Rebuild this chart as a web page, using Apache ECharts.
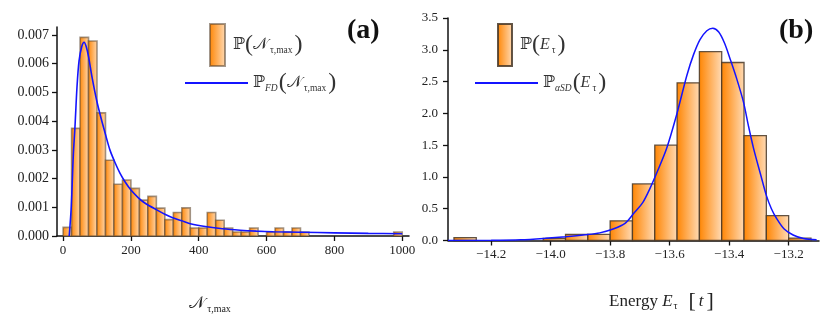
<!DOCTYPE html>
<html><head><meta charset="utf-8">
<script src="https://cdn.jsdelivr.net/npm/echarts@6/dist/echarts.min.js"></script>
<style>html,body{margin:0;padding:0;background:#fff}#c{width:830px;height:319px}</style>
</head><body><div id="c"></div>
<script>
// ---------- data (panel a) ----------
const nBinLo = [0,25,50,75,100,125,150,175,200,225,250,275,300,325,350,375,400,425,450,475,500,525,550,600,625,650,675,700,975];
const nBinWidth = 25;
const nHist = [0.00030,0.00375,0.00692,0.00679,0.00429,0.00264,0.00180,0.00195,0.00166,0.00125,0.00138,0.00097,0.00057,0.00082,0.00098,0.00028,0.00028,0.00082,0.00055,0.00028,0.00014,0.00014,0.00028,0.00014,0.00028,0.00014,0.00028,0.00014,0.00014];
const nFitX = [18,24,30,35,41,47,55,62,68,75,85,99,112,124,138,153,168,183,200,222,242,276,300,325,350,375,424,470,522,570,620,700,800,900,1000];
const nFitY = [0,0.0010,0.0028,0.0038,0.0052,0.0061,0.0066,0.00675,0.0066,0.00625,0.00555,0.00472,0.0041,0.00358,0.0030,0.00256,0.00218,0.00188,0.0016,0.00133,0.00114,0.00091,0.00076,0.00063,0.00053,0.00043,0.00032,0.00025,0.00020,0.00017,0.00015,0.00013,0.00011,0.00009,0.00008];
const nTicksX = [0,200,400,600,800,1000];
const nTicksY = [0,0.001,0.002,0.003,0.004,0.005,0.006,0.007];
// ---------- data (panel b) ----------
const eBinLo = [-14.325,-14.025,-13.95,-13.875,-13.80,-13.725,-13.65,-13.575,-13.50,-13.425,-13.35,-13.275,-13.20];
const eBinWidth = 0.075;
const eHist = [0.045,0.035,0.095,0.095,0.31,0.89,1.50,2.48,2.97,2.80,1.65,0.39,0.037];
const eFitX = [-14.345,-14.2,-14.1,-14.018,-13.95,-13.884,-13.835,-13.79,-13.75,-13.722,-13.69,-13.666,-13.64,-13.61,-13.577,-13.542,-13.52,-13.498,-13.475,-13.455,-13.435,-13.415,-13.397,-13.375,-13.352,-13.335,-13.318,-13.295,-13.275,-13.258,-13.241,-13.215,-13.185,-13.15,-13.106];
const eFitY = [0,0.003,0.012,0.035,0.06,0.09,0.12,0.18,0.27,0.42,0.6,0.82,1.1,1.45,1.97,2.6,2.92,3.16,3.3,3.34,3.28,3.1,2.86,2.55,2.18,1.8,1.45,1.05,0.71,0.5,0.35,0.18,0.086,0.03,0.01];
const eTicksX = [-14.2,-14.0,-13.8,-13.6,-13.4,-13.2];
const eTicksY = [0,0.5,1.0,1.5,2.0,2.5,3.0,3.5];

const SERIF = "'Liberation Serif','DejaVu Serif',serif";
const MATH = "'DejaVu Serif','Liberation Serif',serif";
const BLUE = '#1414ff';
const chart = echarts.init(document.getElementById('c'));

function grad(){ return new echarts.graphic.LinearGradient(0,0,1,0,[{offset:0,color:'#ff8400'},{offset:1,color:'#ffdcb8'}]); }
function histSeries(name, lo, w, h, xi, stroke, lw){
  return {
    name, type:'custom', xAxisIndex:xi, yAxisIndex:xi, z:2,
    itemStyle:{color:grad(), borderColor:stroke, borderWidth:lw},
    encode:{x:[0,1], y:2},
    data: lo.map((v,i)=>[v, v+w, h[i]]),
    renderItem(params, api){
      const a = api.coord([api.value(0), api.value(2)]);
      const b = api.coord([api.value(1), 0]);
      return {type:'rect', shape:{x:a[0], y:a[1], width:b[0]-a[0], height:b[1]-a[1]},
        style:{fill:grad(), stroke:stroke, lineWidth:lw}};
    }
  };
}
const richBase = {
  P:{fontSize:16, fontFamily:MATH, color:'#333'},
  L:{fontSize:24, fontFamily:SERIF, color:'#333'},
  N:{fontSize:16, fontFamily:MATH, color:'#333'},
  E:{fontSize:16, fontFamily:SERIF, fontStyle:'italic', color:'#333'},
  s:{fontSize:9.5, fontFamily:SERIF, color:'#333', padding:[10,2,0,2]},
  f:{fontSize:9.5, fontFamily:SERIF, fontStyle:'italic', color:'#333', padding:[10,1,0,0]},
  g:{fontSize:1, padding:[0,0,0,3]}
};
function legend(name, left, top, w, h, text, extra){
  return Object.assign({left, top, padding:0, itemWidth:w, itemHeight:h, data:[name],
    formatter:()=>text, textStyle:{rich:richBase}}, extra||{});
}
const axisLine = {show:true, onZero:false, lineStyle:{color:'#111', width:1.5}};
const tick = {show:true, inside:false, length:5, lineStyle:{color:'#111', width:1.3}};
const lab = {fontFamily:SERIF, fontSize:13, color:'#222'};

chart.setOption({
  animation:false,
  title:[
    {text:'(a)', left:342, top:12, textStyle:{fontFamily:SERIF, fontSize:28, fontWeight:'bold', color:'#111'}},
    {text:'(b)', left:774, top:12, textStyle:{fontFamily:SERIF, fontSize:28, fontWeight:'bold', color:'#111'}}
  ],
  legend:[
    legend('hN', 209, 23, 15, 42, '{g|}{P|ℙ}{L|(}{N|𝒩}{s|τ,max}{L|)}', {icon:'rect'}),
    legend('fN', 185, 71, 63, 2, '{P|ℙ}{f|FD}{L|(}{N|𝒩}{s|τ,max}{L|)}', {icon:'rect', itemStyle:{color:BLUE}}),
    legend('hE', 497, 23, 14, 42, '{g|}{P|ℙ}{L|(}{E|E}{s|τ}{L|)}', {icon:'rect'}),
    legend('fE', 475, 71, 63, 2, '{P|ℙ}{f|αSD}{L|(}{E|E}{s|τ}{L|)}', {icon:'rect', itemStyle:{color:BLUE}})
  ],
  grid:[
    {left:57, top:27, width:352, height:213},
    {left:448, top:18, width:371, height:222.5}
  ],
  xAxis:[
    {type:'value', gridIndex:0, min:-18, max:1020, splitLine:{show:false}, axisLine,
     axisTick:Object.assign({customValues:nTicksX}, tick),
     axisLabel:Object.assign({customValues:nTicksX, margin:8, formatter:v=>String(v)}, lab),
     name:'{N|𝒩}{s|τ,max}', nameLocation:'middle', nameGap:58,
     nameTextStyle:{padding:[0,46,0,0], rich:{N:{fontSize:17, fontFamily:MATH, color:'#222'}, s:{fontSize:10, fontFamily:SERIF, color:'#222', padding:[10,0,0,2]}}}},
    {type:'value', gridIndex:1, min:-14.345, max:-13.098, splitLine:{show:false}, axisLine,
     axisTick:Object.assign({customValues:eTicksX}, tick),
     axisLabel:Object.assign({customValues:eTicksX, margin:8, formatter:v=>(v<0?'\u2212':'')+Math.abs(v).toFixed(1)}, lab),
     name:'{t|Energy }{E|E}{s|τ}{b|  [}{i|t}{b|]}', nameLocation:'middle', nameGap:50,
     nameTextStyle:{padding:[0,0,0,56], rich:{t:{fontSize:17, fontFamily:SERIF, color:'#222'}, E:{fontSize:17, fontFamily:SERIF, fontStyle:'italic', color:'#222'}, s:{fontSize:10, fontFamily:SERIF, color:'#222', padding:[9,0,0,1]}, b:{fontSize:22, fontFamily:SERIF, color:'#222'}, i:{fontSize:17, fontFamily:SERIF, fontStyle:'italic', color:'#222', padding:[0,3,0,3]}}}}
  ],
  yAxis:[
    {type:'value', gridIndex:0, min:0, max:0.00728, splitLine:{show:false}, axisLine,
     axisTick:Object.assign({customValues:nTicksY}, tick),
     axisLabel:Object.assign({customValues:nTicksY, margin:8, formatter:v=>v.toFixed(3)}, lab, {fontSize:14})},
    {type:'value', gridIndex:1, min:0, max:3.5, splitLine:{show:false}, axisLine,
     axisTick:Object.assign({customValues:eTicksY}, tick),
     axisLabel:Object.assign({customValues:eTicksY, margin:10, formatter:v=>v.toFixed(1)}, lab)}
  ],
  series:[
    histSeries('hN', nBinLo, nBinWidth, nHist, 0, 'rgba(85,65,45,0.55)', 1.6),
    {name:'fN', type:'line', xAxisIndex:0, yAxisIndex:0, z:3, symbol:'none', smooth:0.3,
     lineStyle:{color:BLUE, width:1.6}, itemStyle:{color:BLUE},
     data:nFitX.map((x,i)=>[x, nFitY[i]])},
    histSeries('hE', eBinLo, eBinWidth, eHist, 1, 'rgba(70,55,40,0.85)', 1.3),
    {name:'fE', type:'line', xAxisIndex:1, yAxisIndex:1, z:3, symbol:'none', smooth:0.3,
     lineStyle:{color:BLUE, width:1.5}, itemStyle:{color:BLUE},
     data:eFitX.map((x,i)=>[x, eFitY[i]])}
  ]
});
</script></body></html>
